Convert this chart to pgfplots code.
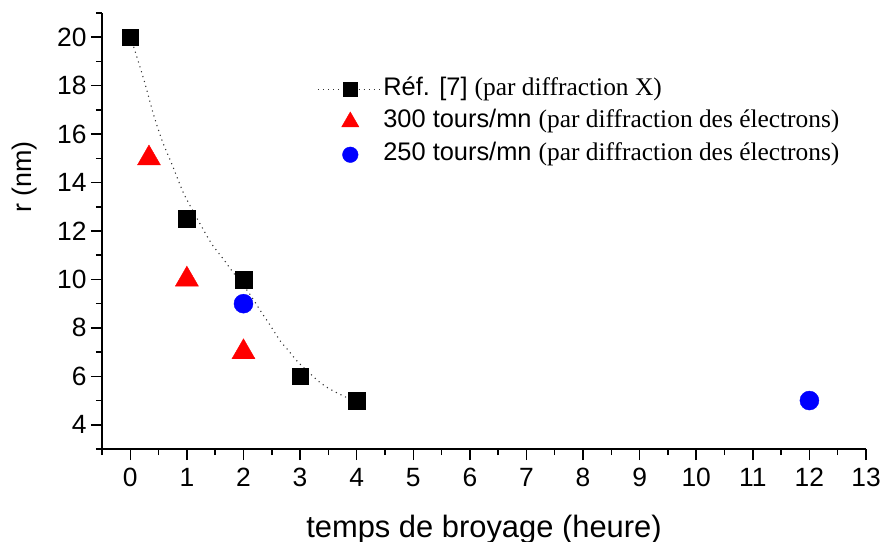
\documentclass[border=0pt]{standalone}
\usepackage{fontspec}
\setmainfont{Liberation Sans}
\newfontfamily\tms{Liberation Serif}
\usepackage{pgfplots}
\pgfplotsset{compat=1.18}
\begin{document}
\begin{tikzpicture}
\begin{axis}[
  name=ax, at={(0,0)}, anchor=south west,
  scale only axis, width=764bp, height=436bp,
  xmin=-0.5, xmax=13, ymin=3, ymax=21,
  axis lines*=left,
  axis line style={line width=1.8bp},
  xtick={0,1,...,13}, minor xtick={-0.5,0.5,...,12.5},
  ytick={4,6,...,20}, minor ytick={3,5,...,21},
  tick align=outside, major tick length=11bp, minor tick length=6bp,
  every tick/.style={line width=1.5bp, black},
  /pgf/number format/assume math mode=true,
  ticklabel style={font=\fontsize{26.5}{31}\selectfont},
  xticklabel style={yshift=-5bp},
  yticklabel style={xshift=-1bp},
  xlabel={temps de broyage (heure)},
  ylabel={r (nm)},
  xlabel style={font=\fontsize{31}{37}\selectfont, at={(axis description cs:0.5,0)}, anchor=base, yshift=-88bp},
  ylabel style={font=\fontsize{27}{32}\selectfont, at={(axis description cs:-0.102,0.624)}, anchor=center},
  clip=false,
  legend cell align=left,
  legend style={at={(axis cs:3.30,18.36)}, anchor=north west, draw=none, fill=none,
    inner sep=0pt, row sep=8.8bp,
    nodes={inner sep=0pt, text height=18bp, text depth=6bp},
    font=\fontsize{25.5}{30}\selectfont,
    /tikz/every even column/.append style={column sep=13bp}},
  legend image code/.code={\draw[mark repeat=2,mark phase=2,#1] plot coordinates {(0bp,0bp) (32.5bp,0bp) (65bp,0bp)};},
]
% fitted dotted curve
\addplot[forget plot, black!80, line width=1.1bp, dash pattern=on 1.1bp off 4bp, smooth, tension=0.4] coordinates {
(0,20) (0.07,19.53) (0.247,18.19) (0.41,16.81) (0.565,15.71) (0.737,14.75) (0.924,13.65) (1.06,13.03) (1.27,12.14) (1.443,11.45) (1.648,10.83) (1.797,10.35) (2.07,9.53) (2.21,9.04) (2.34,8.56) (2.46,8.15) (2.65,7.46) (2.80,7.05) (2.97,6.57) (3.33,5.79) (3.53,5.47) (3.80,5.15) (4,5)};
% Ref [7]
\addplot[forget plot, only marks, black, mark=square*, mark size=8.3bp] coordinates {(0,20) (1,12.5) (2,10) (3,6) (4,5)};
% 300 tours/mn
\addplot[forget plot, only marks, red, mark=triangle*, mark size=13.3bp] coordinates {(0.33,15) (1,10) (2,7)};
% 250 tours/mn
\addplot[forget plot, only marks, blue, mark=*, mark size=9.5bp] coordinates {(2,9) (12,5)};
\addlegendimage{black!80, line width=1.1bp, dash pattern=on 1.1bp off 4bp, mark=square*, mark size=7bp, mark options={solid, black}}
\addlegendentry{Réf. [7] {\tms (par diffraction X)}}
\addlegendimage{only marks, red, mark=triangle*, mark size=10bp}
\addlegendentry{300 tours/mn {\tms (par diffraction des électrons)}}
\addlegendimage{only marks, blue, mark=*, mark size=7.8bp}
\addlegendentry{250 tours/mn {\tms (par diffraction des électrons)}}
\end{axis}
\pgfresetboundingbox
\path ([shift={(-102bp,-93bp)}]ax.south west) rectangle ([shift={(17bp,13bp)}]ax.north east);
\end{tikzpicture}
\end{document}
